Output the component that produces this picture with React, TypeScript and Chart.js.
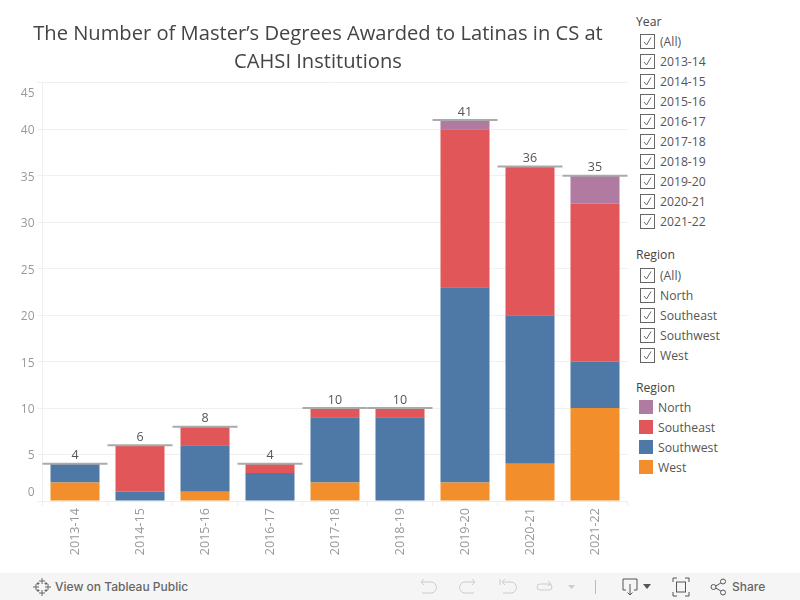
import React, { useEffect, useRef } from "react";
import { Chart, registerables } from "chart.js";

Chart.register(...registerables);

const FONT = '"Open Sans", sans-serif';

const years = ["2013-14", "2014-15", "2015-16", "2016-17", "2017-18", "2018-19", "2019-20", "2020-21", "2021-22"];
const west = [2, 0, 1, 0, 2, 0, 2, 4, 10];
const southwest = [2, 1, 5, 3, 7, 9, 21, 16, 5];
const southeast = [0, 5, 2, 1, 1, 1, 17, 16, 17];
const north = [0, 0, 0, 0, 0, 0, 1, 0, 3];
const totals = [4, 6, 8, 4, 10, 10, 41, 36, 35];
const regions = ["North", "Southeast", "Southwest", "West"];
const regionColors = ["#b07aa1", "#e15759", "#4e79a7", "#f28e2b"];
const titleLines = ["The Number of Master\u2019s Degrees Awarded to Latinas in CS at", "CAHSI Institutions"];

const totalLabels = {
  id: "totalLabels",
  beforeDraw(chart: any) {
    // Tableau nudges the first and last axis labels inside the pane.
    chart.scales.y.getLabelItems().forEach((item: any) => {
      const text = item.label;
      item.options.translation[1] += text === "45" ? 10.5 : text === "0" ? -8 : 1.5;
    });
  },
  afterDatasetsDraw(chart: any) {
    const { ctx, scales } = chart;
    ctx.save();
    ctx.font = `12.5px ${FONT}`;
    ctx.fillStyle = "#555555";
    ctx.textAlign = "center";
    ctx.textBaseline = "middle";
    totals.forEach((t, i) => {
      ctx.fillText(String(t), scales.x.getPixelForValue(i), scales.y.getPixelForValue(t) - 8);
    });
    ctx.restore();
  },
};

const Check = ({ top, label }: { top: number; label: string }) => (
  <div style={{ position: "absolute", left: 640, top: top - 10, height: 20, lineHeight: "20px", whiteSpace: "nowrap" }}>
    <svg width="15" height="15" style={{ position: "absolute", left: 0, top: 3 }}>
      <rect x="0.5" y="0.5" width="14" height="14" fill="#fff" stroke="#666" />
      <path d="M4 8 L6.5 11 L11 3.5" fill="none" stroke="#666" strokeWidth="1" />
    </svg>
    <span style={{ position: "absolute", left: 20, top: 1 }}>{label}</span>
  </div>
);

const Head = ({ top, label }: { top: number; label: string }) => (
  <div style={{ position: "absolute", left: 636, top: top - 10, height: 20, lineHeight: "20px", color: "#444" }}>{label}</div>
);

const I = ({ x, w = 18, children }: { x: number; w?: number; children: React.ReactNode }) => (
  <svg width={w} height="20" style={{ position: "absolute", left: x, top: 4 }} fill="none">
    {children}
  </svg>
);

export default function App() {
  const ref = useRef<HTMLCanvasElement>(null);
  useEffect(() => {
    document.body.style.margin = "0";
    document.body.style.background = "#fff";
    const common = { barPercentage: 0.754, categoryPercentage: 1, borderWidth: 0, order: 1 };
    const chart = new Chart(ref.current!, {
      type: "bar",
      data: {
        labels: years,
        datasets: [
          { type: "line", label: "Total", data: totals, showLine: false, pointStyle: "line", pointRadius: 32.5, pointBorderWidth: 2, pointBorderColor: "#aaaaaa", order: 0 } as any,
          { label: "West", data: west, backgroundColor: regionColors[3], ...common },
          { label: "Southwest", data: southwest, backgroundColor: regionColors[2], ...common },
          { label: "Southeast", data: southeast, backgroundColor: regionColors[1], ...common },
          { label: "North", data: north, backgroundColor: regionColors[0], ...common },
        ],
      },
      options: {
        responsive: false,
        animation: false,
        events: [],
        layout: { padding: 0, autoPadding: false },
        plugins: {
          legend: { display: false },
          tooltip: { enabled: false },
          title: {
            display: true,
            text: titleLines,
            color: "#444444",
            font: { family: FONT, size: 20.15, weight: "normal", lineHeight: 1.386 },
            padding: { top: 20, bottom: 7 },
          },
        },
        scales: {
          x: {
            stacked: true,
            afterFit: (s: any) => { s.height = 72; s.paddingLeft = 0; s.paddingRight = 8.5; },
            grid: { drawOnChartArea: false, drawTicks: true, tickLength: 5, color: "#eeeeee" },
            border: { color: "#eeeeee" },
            ticks: { minRotation: 90, maxRotation: 90, color: "#999999", padding: 2, font: { family: FONT, size: 12.6 } },
          },
          y: {
            stacked: true,
            min: 0,
            max: 45,
            afterFit: (s: any) => { s.width = 42.5; s.paddingTop = 0; s.paddingBottom = 0; },
            grid: { color: "#f0f0f0", tickLength: 5 },
            border: { color: "#f0f0f0" },
            ticks: { stepSize: 5, color: "#999999", padding: 3, font: { family: FONT, size: 12 } },
          },
        },
      },
      plugins: [totalLabels],
    } as any);
    return () => chart.destroy();
  }, []);

  return (
    <div style={{ position: "relative", width: 800, height: 600, overflow: "hidden", fontFamily: FONT, fontSize: 12.2, color: "#555", background: "#fff" }}>
      <canvas ref={ref} width={636} height={573} style={{ position: "absolute", left: 0, top: 0, display: "block" }} />
      <Head top={22} label="Year" />
      {["(All)", ...years].map((y, i) => <Check key={y} top={41 + i * 20} label={y} />)}
      <Head top={255} label="Region" />
      {["(All)", ...regions].map((r, i) => <Check key={r} top={275 + i * 20} label={r} />)}
      <Head top={388} label="Region" />
      {regions.map((r, i) => (
        <div key={r} style={{ position: "absolute", left: 639, top: 397 + i * 20, height: 20, lineHeight: "20px" }}>
          <div style={{ position: "absolute", left: 0, top: 3, width: 14, height: 14, background: regionColors[i] }} />
          <span style={{ position: "absolute", left: 19, top: 1 }}>{r}</span>
        </div>
      ))}
      <div style={{ position: "absolute", left: 0, top: 573, width: 800, height: 27, background: "#f5f5f5" }}>
        <I x={33}>
          <path d="M9 1v6M6 4h6M9 13v6M6 16h6M3 7v6M0 10h6M15 7v6M12 10h6M5 5v3M3.5 6.5h3M13 5v3M11.5 6.5h3M5 12v3M3.5 13.5h3M13 12v3M11.5 13.5h3" stroke="#666" strokeWidth="1" />
        </I>
        <span style={{ position: "absolute", left: 55, top: 5, lineHeight: "18px", fontFamily: "Inter, sans-serif", fontSize: 12, fontWeight: 500, color: "#666" }}>View on Tableau Public</span>
        <I x={419}><path d="M2 5h10a5 5 0 0 1 0 11H3M5 2L2 5l3 3" stroke="#ccc" /></I>
        <I x={459}><path d="M16 5H6a5 5 0 0 0 0 11h9M13 2l3 3-3 3" stroke="#ccc" /></I>
        <I x={499}><path d="M1 2v6M4 5h8a5 5 0 0 1 0 11H4M6 2L3 5l3 3" stroke="#ccc" /></I>
        <I x={535}><path d="M5 7h9a3 3 0 0 1 0 6H5a3 3 0 0 1 0-6zM13 4l3 3-3 2" stroke="#ccc" /></I>
        <I x={567} w={9}><path d="M1 8h7l-3.5 4z" fill="#ccc" /></I>
        <div style={{ position: "absolute", left: 595, top: 7, width: 1, height: 14, background: "#bbb" }} />
        <I x={621}><path d="M5 13H2V2h14v11h-3M9 7v11M6.5 15.5L9 18l2.5-2.5" stroke="#555" /></I>
        <I x={643} w={9}><path d="M0 7h8l-4 5z" fill="#555" /></I>
        <I x={672}><path d="M1 5V1h4M13 1h4v4M17 15v4h-4M5 19H1v-4" stroke="#555" /><rect x="4.5" y="5" width="9" height="10" stroke="#555" /></I>
        <I x={710}><circle cx="3.5" cy="10" r="2.5" stroke="#555" /><circle cx="13" cy="4.5" r="2.5" stroke="#555" /><circle cx="13" cy="15.5" r="2.5" stroke="#555" /><path d="M5.8 9l5-3M5.8 11l5 3" stroke="#555" /></I>
        <span style={{ position: "absolute", left: 732, top: 5, lineHeight: "18px", fontFamily: "Inter, sans-serif", fontSize: 12, fontWeight: 500, color: "#666" }}>Share</span>
      </div>
    </div>
  );
}
